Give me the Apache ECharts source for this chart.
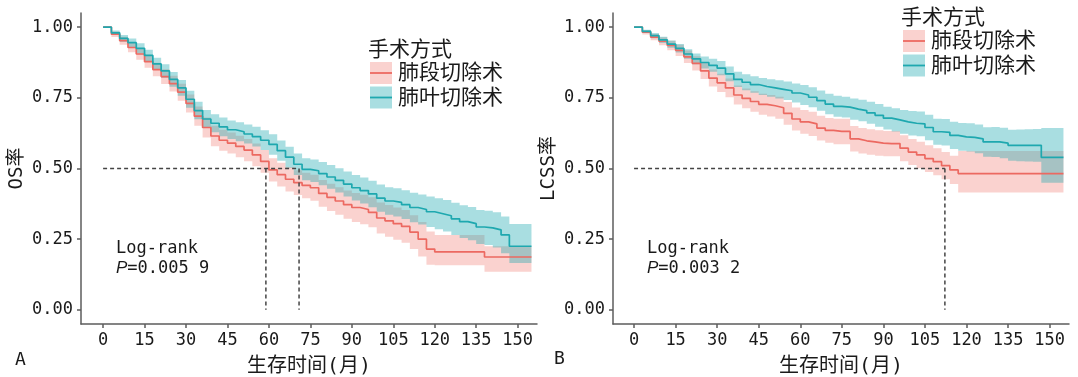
<!DOCTYPE html>
<html>
<head>
<meta charset="utf-8">
<title>手术方式与生存曲线</title>
<script src="https://cdn.jsdelivr.net/npm/echarts@6/dist/echarts.min.js"></script>
<style>
  html, body { margin: 0; padding: 0; background: #fff; }
  #chart { width: 1078px; height: 377px; }
</style>
</head>
<body>
<div id="chart"></div>
<script>
// follow-up time grid (months), shared by every curve
const months = [0, 3, 6, 9, 12, 15, 18, 21, 24, 27, 30, 33, 36, 39, 42, 45, 48, 51, 54, 57,
  60, 63, 66, 69, 72, 75, 78, 81, 84, 87, 90, 93, 96, 99, 102, 105, 108, 111, 114, 117,
  120, 123, 126, 129, 132, 135, 138, 141, 144, 147, 150, 153, 155]

// A: OS, segmentectomy
const osSeg = [1.00, 0.975, 0.952, 0.928, 0.905, 0.878, 0.85, 0.825, 0.80, 0.77, 0.73, 0.685, 0.645, 0.615, 0.60, 0.59, 0.578, 0.565, 0.548, 0.525,
  0.495, 0.478, 0.462, 0.45, 0.44, 0.432, 0.412, 0.398, 0.385, 0.372, 0.362, 0.355, 0.345, 0.325, 0.315, 0.305, 0.295, 0.275, 0.25, 0.215,
  0.205, 0.205, 0.205, 0.205, 0.205, 0.205, 0.187, 0.187, 0.187, 0.187, 0.187, 0.187, 0.187]
const osSegLow = [1.00, 0.965, 0.938, 0.911, 0.885, 0.856, 0.826, 0.799, 0.772, 0.74, 0.698, 0.651, 0.61, 0.579, 0.563, 0.553, 0.54, 0.526, 0.508, 0.485,
  0.454, 0.436, 0.419, 0.406, 0.395, 0.386, 0.365, 0.35, 0.336, 0.322, 0.311, 0.303, 0.292, 0.27, 0.259, 0.248, 0.237, 0.215, 0.189, 0.16,
  0.158, 0.158, 0.158, 0.158, 0.158, 0.158, 0.135, 0.135, 0.135, 0.135, 0.135, 0.135, 0.135]
const osSegHigh = [1.00, 0.985, 0.966, 0.945, 0.925, 0.90, 0.874, 0.851, 0.828, 0.80, 0.762, 0.719, 0.68, 0.651, 0.637, 0.627, 0.616, 0.604, 0.588, 0.565,
  0.536, 0.52, 0.505, 0.494, 0.485, 0.478, 0.459, 0.446, 0.434, 0.422, 0.413, 0.407, 0.398, 0.38, 0.371, 0.362, 0.353, 0.335, 0.311, 0.277,
  0.265, 0.265, 0.265, 0.265, 0.265, 0.265, 0.225, 0.225, 0.225, 0.225, 0.225, 0.225, 0.225]

// A: OS, lobectomy
const osLobe = [1.00, 0.98, 0.96, 0.945, 0.925, 0.90, 0.87, 0.845, 0.815, 0.785, 0.745, 0.705, 0.675, 0.66, 0.647, 0.637, 0.63, 0.622, 0.613, 0.60,
  0.585, 0.563, 0.54, 0.515, 0.497, 0.492, 0.482, 0.47, 0.458, 0.445, 0.432, 0.422, 0.41, 0.395, 0.385, 0.38, 0.372, 0.362, 0.355, 0.347,
  0.34, 0.333, 0.322, 0.312, 0.305, 0.293, 0.29, 0.283, 0.265, 0.225, 0.225, 0.225, 0.225]
const osLobeLow = [1.00, 0.972, 0.948, 0.93, 0.907, 0.88, 0.848, 0.821, 0.789, 0.757, 0.715, 0.674, 0.643, 0.628, 0.614, 0.604, 0.596, 0.588, 0.578, 0.565,
  0.549, 0.527, 0.503, 0.477, 0.458, 0.452, 0.441, 0.428, 0.415, 0.401, 0.387, 0.376, 0.363, 0.347, 0.336, 0.33, 0.321, 0.31, 0.302, 0.293,
  0.285, 0.277, 0.265, 0.254, 0.246, 0.233, 0.229, 0.221, 0.20, 0.166, 0.166, 0.166, 0.166]
const osLobeHigh = [1.00, 0.988, 0.972, 0.96, 0.943, 0.92, 0.892, 0.869, 0.841, 0.813, 0.775, 0.736, 0.707, 0.692, 0.68, 0.67, 0.664, 0.656, 0.648, 0.635,
  0.621, 0.599, 0.577, 0.553, 0.536, 0.532, 0.523, 0.512, 0.501, 0.489, 0.477, 0.468, 0.457, 0.443, 0.434, 0.43, 0.423, 0.414, 0.408, 0.401,
  0.395, 0.389, 0.379, 0.37, 0.364, 0.353, 0.351, 0.345, 0.33, 0.304, 0.304, 0.304, 0.304]

// B: LCSS, segmentectomy
const lcssSeg = [1.00, 0.982, 0.965, 0.95, 0.935, 0.918, 0.895, 0.872, 0.845, 0.82, 0.803, 0.785, 0.76, 0.748, 0.737, 0.727, 0.722, 0.715, 0.695, 0.675,
  0.665, 0.658, 0.643, 0.635, 0.631, 0.631, 0.605, 0.598, 0.594, 0.59, 0.588, 0.588, 0.572, 0.558, 0.548, 0.535, 0.524, 0.51, 0.495, 0.482,
  0.482, 0.482, 0.482, 0.482, 0.482, 0.482, 0.482, 0.482, 0.482, 0.482, 0.482, 0.482, 0.482]
const lcssSegLow = [1.00, 0.974, 0.954, 0.936, 0.918, 0.898, 0.873, 0.847, 0.817, 0.79, 0.771, 0.752, 0.726, 0.713, 0.701, 0.69, 0.684, 0.676, 0.655, 0.634,
  0.623, 0.615, 0.599, 0.591, 0.586, 0.586, 0.56, 0.553, 0.549, 0.545, 0.543, 0.543, 0.526, 0.512, 0.501, 0.488, 0.476, 0.462, 0.445, 0.415,
  0.415, 0.415, 0.415, 0.415, 0.415, 0.415, 0.415, 0.415, 0.415, 0.415, 0.415, 0.415, 0.415]
const lcssSegHigh = [1.00, 0.99, 0.976, 0.964, 0.952, 0.938, 0.917, 0.897, 0.873, 0.85, 0.835, 0.818, 0.794, 0.783, 0.773, 0.764, 0.76, 0.754, 0.735, 0.716,
  0.707, 0.701, 0.687, 0.679, 0.676, 0.676, 0.65, 0.643, 0.639, 0.635, 0.633, 0.633, 0.618, 0.604, 0.595, 0.582, 0.572, 0.558, 0.545, 0.562,
  0.562, 0.562, 0.562, 0.562, 0.562, 0.562, 0.562, 0.562, 0.562, 0.562, 0.562, 0.562, 0.562]

// B: LCSS, lobectomy
const lcssLobe = [1.00, 0.985, 0.97, 0.955, 0.94, 0.925, 0.905, 0.888, 0.875, 0.865, 0.855, 0.835, 0.815, 0.805, 0.797, 0.79, 0.785, 0.78, 0.775, 0.767,
  0.76, 0.752, 0.74, 0.728, 0.72, 0.717, 0.71, 0.705, 0.697, 0.688, 0.678, 0.672, 0.665, 0.66, 0.658, 0.645, 0.63, 0.628, 0.617, 0.612,
  0.61, 0.605, 0.594, 0.594, 0.59, 0.582, 0.582, 0.582, 0.582, 0.539, 0.539, 0.539, 0.539]
const lcssLobeLow = [1.00, 0.979, 0.961, 0.944, 0.927, 0.91, 0.888, 0.869, 0.854, 0.842, 0.83, 0.809, 0.788, 0.777, 0.768, 0.76, 0.754, 0.748, 0.742, 0.733,
  0.725, 0.717, 0.704, 0.692, 0.683, 0.68, 0.672, 0.667, 0.658, 0.648, 0.638, 0.631, 0.623, 0.617, 0.614, 0.60, 0.584, 0.581, 0.569, 0.563,
  0.56, 0.554, 0.542, 0.541, 0.536, 0.527, 0.526, 0.525, 0.524, 0.45, 0.45, 0.45, 0.45]
const lcssLobeHigh = [1.00, 0.991, 0.979, 0.966, 0.953, 0.94, 0.922, 0.907, 0.896, 0.888, 0.88, 0.861, 0.842, 0.833, 0.826, 0.82, 0.816, 0.812, 0.808, 0.801,
  0.795, 0.787, 0.776, 0.764, 0.757, 0.754, 0.748, 0.743, 0.736, 0.728, 0.718, 0.713, 0.707, 0.703, 0.702, 0.69, 0.676, 0.675, 0.665, 0.661,
  0.66, 0.656, 0.646, 0.647, 0.644, 0.637, 0.638, 0.639, 0.64, 0.643, 0.643, 0.643, 0.643]

// median survival times (months)
const osMedians = [58.9, 70.9]
const lcssMedians = [112.2]

const groupNames = ['肺段切除术', '肺叶切除术']
const xTicks = [0, 15, 30, 45, 60, 75, 90, 105, 120, 135, 150]
const yTicks = [0, 0.25, 0.5, 0.75, 1]

const segColor = '#EC6961'
const lobeColor = '#1EA8AF'
const segBand = 'rgba(239,106,97,0.3)'
const lobeBand = 'rgba(30,168,175,0.38)'
const axisColor = '#5c5c5c'
const monoFont = "'DejaVu Sans Mono', 'Noto Sans CJK SC', monospace"
const cjkFont = "'Noto Sans CJK SC', sans-serif"

const chart = echarts.init(document.getElementById('chart'))

function pairs(values) {
  return months.map((t, i) => [t, values[i]])
}

// step-shaped confidence band drawn as one polygon through the axis scales
function band(idx, low, high, fill) {
  return {
    type: 'custom', xAxisIndex: idx, yAxisIndex: idx, silent: true, z: 1,
    data: months.map((t, i) => [t, low[i], high[i]]),
    encode: { x: 0, y: [1, 2] },
    renderItem(params, api) {
      if (params.dataIndex !== 0) return null
      const top = []
      const bottom = []
      const n = months.length
      for (let i = 0; i < n; i++) {
        const next = i < n - 1 ? months[i + 1] : months[i]
        top.push(api.coord([months[i], high[i]]), api.coord([next, high[i]]))
        bottom.push(api.coord([months[i], low[i]]), api.coord([next, low[i]]))
      }
      return {
        type: 'polygon',
        shape: { points: top.concat(bottom.reverse()) },
        style: { fill: fill }
      }
    }
  }
}

function curve(idx, name, values, color) {
  return {
    name: name, type: 'line', xAxisIndex: idx, yAxisIndex: idx, step: 'end',
    symbol: 'none', lineStyle: { color: color, width: 1.7 }, z: 3, data: pairs(values)
  }
}

function medianLines(idx, medians) {
  const style = { color: '#444', width: 1.5, type: [4, 3] }
  const out = [{
    type: 'line', xAxisIndex: idx, yAxisIndex: idx, symbol: 'none', silent: true, z: 4,
    lineStyle: style, data: [[0, 0.5], [Math.max(...medians), 0.5]]
  }]
  medians.forEach(m => {
    out.push({
      type: 'line', xAxisIndex: idx, yAxisIndex: idx, symbol: 'none', silent: true, z: 4,
      lineStyle: style, data: [[m, 0.5], [m, 0]]
    })
  })
  return out
}

function xAxis(idx, min) {
  return {
    gridIndex: idx, type: 'value', min: min, max: 157,
    name: '生存时间(月)', nameLocation: 'middle', nameGap: 33,
    nameTextStyle: { color: '#1a1a1a', fontSize: 20, fontFamily: monoFont },
    axisLine: { onZero: false, lineStyle: { color: axisColor, width: 1.5 } },
    axisTick: { customValues: xTicks, length: 4, lineStyle: { color: axisColor, width: 1.5 } },
    axisLabel: { customValues: xTicks, margin: 8, color: '#1a1a1a', fontSize: 17, fontFamily: monoFont },
    splitLine: { show: false }
  }
}

function yAxis(idx, name) {
  return {
    gridIndex: idx, type: 'value', min: -0.05, max: 1.05,
    name: name, nameLocation: 'middle', nameGap: 54,
    nameTextStyle: { color: '#1a1a1a', fontSize: 19, fontFamily: monoFont },
    axisLine: { onZero: false, lineStyle: { color: axisColor, width: 1.5 } },
    axisTick: { customValues: yTicks, length: 4, lineStyle: { color: axisColor, width: 1.5 } },
    axisLabel: {
      customValues: yTicks, margin: 8, color: '#1a1a1a', fontSize: 17, fontFamily: monoFont,
      formatter: v => v.toFixed(2)
    },
    splitLine: { show: false }
  }
}

function legend(left, top) {
  const items = [{
    type: 'text', left: left, top: top,
    style: { text: '手术方式', fill: '#1a1a1a', fontSize: 21, fontFamily: cjkFont }
  }]
  const colors = [segColor, lobeColor]
  const fills = [segBand, lobeBand]
  groupNames.forEach((g, i) => {
    const y = top + 24 + i * 24.5
    items.push({
      type: 'rect', left: left + 2, top: y, shape: { width: 22, height: 22 },
      style: { fill: fills[i] }
    })
    items.push({
      type: 'line', shape: { x1: left + 2, y1: y + 11, x2: left + 24, y2: y + 11 },
      style: { stroke: colors[i], lineWidth: 1.8 }
    })
    items.push({
      type: 'text', left: left + 30, top: y - 1,
      style: { text: g, fill: '#1a1a1a', fontSize: 21, fontFamily: cjkFont }
    })
  })
  return items
}

function logRank(left, pText) {
  return [{
    type: 'text', left: left, top: 240,
    style: { text: 'Log-rank', fill: '#1a1a1a', fontSize: 17, fontFamily: monoFont }
  }, {
    type: 'text', left: left, top: 260,
    style: {
      text: '{it|P}=' + pText, fill: '#1a1a1a', fontSize: 17, fontFamily: monoFont,
      rich: { it: { fontStyle: 'italic', fontSize: 17, fontFamily: "'Liberation Sans', sans-serif", fill: '#1a1a1a' } }
    }
  }]
}

const option = {
  animation: false,
  backgroundColor: '#fff',
  grid: [
    { left: 81, top: 13, width: 456, height: 311, outerBoundsMode: 'none' },
    { left: 613, top: 13, width: 456, height: 311, outerBoundsMode: 'none' }
  ],
  xAxis: [xAxis(0, -8), xAxis(1, -7.6)],
  yAxis: [yAxis(0, 'OS率'), yAxis(1, 'LCSS率')],
  series: [
    band(0, osSegLow, osSegHigh, segBand),
    band(0, osLobeLow, osLobeHigh, lobeBand),
    curve(0, groupNames[0], osSeg, segColor),
    curve(0, groupNames[1], osLobe, lobeColor),
    ...medianLines(0, osMedians),
    band(1, lcssSegLow, lcssSegHigh, segBand),
    band(1, lcssLobeLow, lcssLobeHigh, lobeBand),
    curve(1, groupNames[0], lcssSeg, segColor),
    curve(1, groupNames[1], lcssLobe, lobeColor),
    ...medianLines(1, lcssMedians)
  ],
  graphic: [
    ...legend(368, 38),
    ...legend(901, 6),
    ...logRank(116, '0.005 9'),
    ...logRank(647, '0.003 2'),
    { type: 'text', left: 15, top: 351, style: { text: 'A', fill: '#1a1a1a', fontSize: 18, fontFamily: monoFont } },
    { type: 'text', left: 554, top: 350, style: { text: 'B', fill: '#1a1a1a', fontSize: 18, fontFamily: monoFont } }
  ]
}

chart.setOption(option)
</script>
</body>
</html>
